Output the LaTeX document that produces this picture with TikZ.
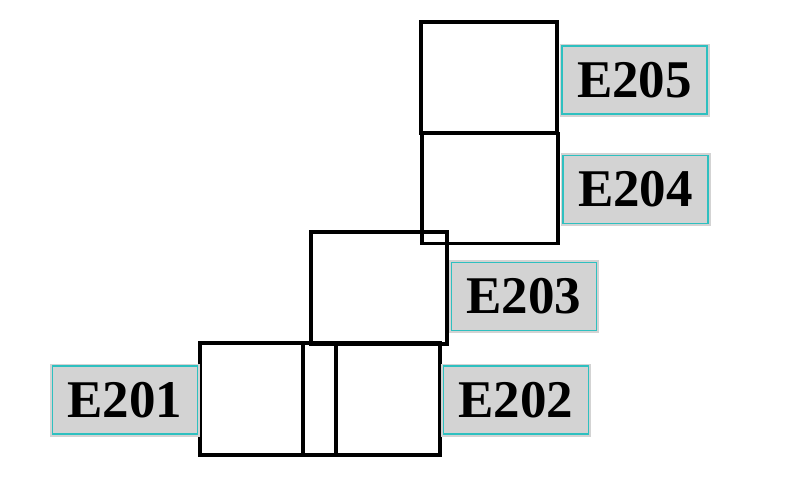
\documentclass[tikz,border=0pt]{standalone}
\usepackage{fontspec}
\setmainfont{Liberation Serif}
\definecolor{lblgray}{HTML}{D3D3D3}
\definecolor{lblcyan}{HTML}{2EC0C0}
\begin{document}
\begin{tikzpicture}[x=1pt,y=-1pt,
  roombox/.style={draw=black, line width=3.5pt, rectangle, minimum width=136pt, minimum height=111pt, inner sep=0pt},
  tag/.style={rectangle, fill=lblgray, draw=lblcyan, line width=1.2pt,
    preaction={draw=lblgray, line width=5pt},
    minimum width=145pt, minimum height=68pt, inner sep=0pt,
    font=\fontsize{53}{60}\selectfont\bfseries}]
\useasboundingbox (0,0) rectangle (809,480);
% boxes
\node[roombox] (b205) at (489,77.5) {};
\node[roombox, minimum height=110pt] (b204) at (490,188.5) {};
\node[roombox, minimum height=112pt] (b203) at (379,288) {};
\node[roombox, minimum height=112pt] (b201) at (268,399) {};
\node[roombox, minimum height=112pt, minimum width=137pt] (b202) at (371.5,399) {};
% labels
\node[tag] (t205) at (634.5,80) {E205};
\node[tag] (t204) at (635.5,189.5) {E204};
\node[tag] (t203) at (524,296.5) {E203};
\node[tag] (t201) at (125,400) {E201};
\node[tag] (t202) at (516,400) {E202};
\end{tikzpicture}
\end{document}
